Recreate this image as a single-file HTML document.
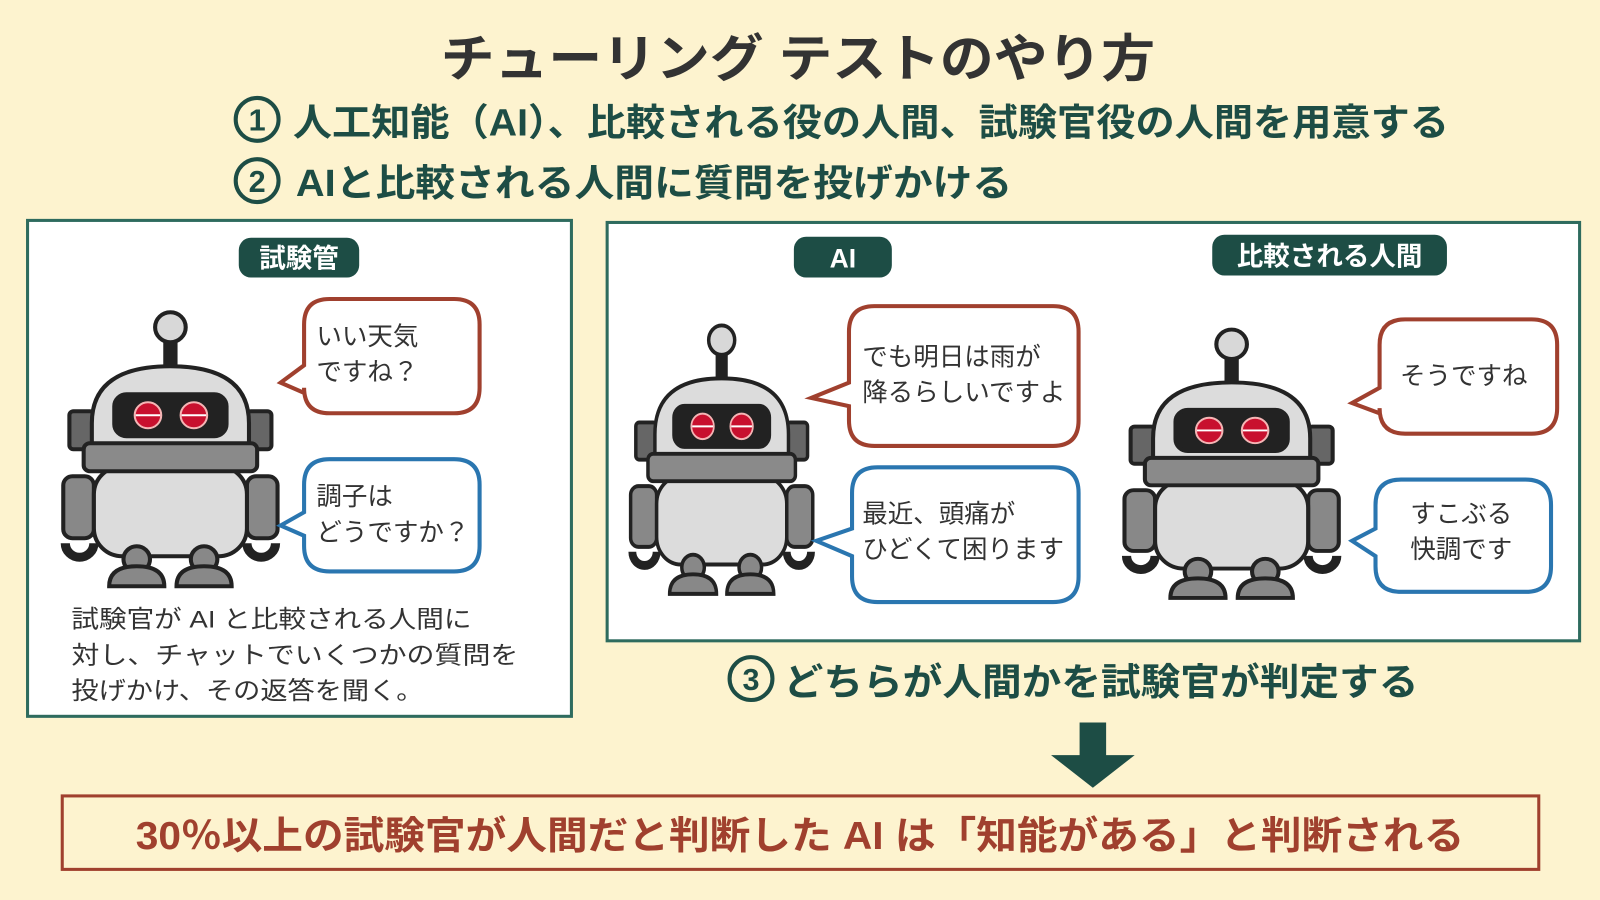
<!DOCTYPE html>
<html><head><meta charset="utf-8"><style>
html,body{margin:0;padding:0;background:#fdf3cf;}
svg{display:block;}
text{font-family:"Liberation Sans","Noto Sans CJK JP",sans-serif;}
</style></head><body>
<svg width="1600" height="900" viewBox="0 0 1568 882" preserveAspectRatio="none" xmlns="http://www.w3.org/2000/svg">
<defs>
<g id="robot" stroke="#222" stroke-width="4">
  <rect x="100" y="25" width="10" height="35" fill="#222"/>
  <circle cx="105" cy="16" r="15" fill="#d8d8d8"/>
  <rect x="6" y="100" width="24" height="38" rx="4" fill="#666"/>
  <rect x="180" y="100" width="24" height="38" rx="4" fill="#666"/>
  <path d="M28,135 L28,112 Q28,55 105,55 Q182,55 182,112 L182,135 Z" fill="#dcdcdc"/>
  <rect x="50" y="83" width="110" height="42" rx="12" fill="#222"/>
  <circle cx="83" cy="104" r="13" fill="#c8102e" stroke="#f5b5b5" stroke-width="2"/>
  <circle cx="128" cy="104" r="13" fill="#c8102e" stroke="#f5b5b5" stroke-width="2"/>
  <line x1="71" y1="104" x2="95" y2="104" stroke="#fff" stroke-width="2"/>
  <line x1="116" y1="104" x2="140" y2="104" stroke="#fff" stroke-width="2"/>
  <rect x="0" y="165" width="30" height="62" rx="9" fill="#888"/>
  <rect x="180" y="165" width="30" height="62" rx="9" fill="#888"/>
  <rect x="30" y="155" width="150" height="90" rx="28" fill="#dcdcdc"/>
  <rect x="20" y="132" width="170" height="28" rx="6" fill="#8a8a8a"/>
  <path d="M2,232 a14,14 0 1 0 28,0" fill="none" stroke="#222" stroke-width="9"/>
  <path d="M180,232 a14,14 0 1 0 28,0" fill="none" stroke="#222" stroke-width="9"/>
  <circle cx="72" cy="248" r="13" fill="#888"/>
  <circle cx="138" cy="248" r="13" fill="#888"/>
  <path d="M45,275 Q45,255 72,255 Q99,255 99,275 Z" fill="#888"/>
  <path d="M111,275 Q111,255 138,255 Q165,255 165,275 Z" fill="#888"/>
</g>
</defs>
<rect width="1568" height="882" fill="#fdf3cf"/>
<text x="432" y="75" font-size="50" font-weight="bold" fill="#333" textLength="700" lengthAdjust="spacingAndGlyphs">チューリング テストのやり方</text>
<g fill="none" stroke="#1d4d45" stroke-width="4">
<circle cx="252" cy="117" r="21"/><circle cx="252" cy="177" r="21"/><circle cx="736" cy="665" r="21"/>
</g>
<g font-size="30" font-weight="bold" fill="#1d4d45" text-anchor="middle">
<text x="252" y="128">1</text><text x="252" y="188">2</text><text x="736" y="676">3</text>
</g>
<g font-size="37" font-weight="bold" fill="#1d4d45">
<text x="287" y="133" textLength="1133" lengthAdjust="spacingAndGlyphs">人工知能（AI）、比較される役の人間、試験官役の人間を用意する</text>
<text x="290" y="192" textLength="702" lengthAdjust="spacingAndGlyphs">AIと比較される人間に質問を投げかける</text>
<text x="768" y="681" textLength="622" lengthAdjust="spacingAndGlyphs">どちらが人間かを試験官が判定する</text>
</g>
<rect x="27" y="216" width="533" height="486" fill="#fff" stroke="#2e6b5e" stroke-width="3"/>
<rect x="595" y="218" width="953" height="410" fill="#fff" stroke="#2e6b5e" stroke-width="3"/>
<rect x="234" y="233" width="118" height="39" rx="12" fill="#1d4d45"/>
<rect x="778" y="232" width="96" height="40" rx="12" fill="#1d4d45"/>
<rect x="1188" y="230" width="230" height="40" rx="12" fill="#1d4d45"/>
<g font-size="26" font-weight="bold" fill="#fff" text-anchor="middle">
<text x="293" y="262">試験管</text><text x="826" y="262">AI</text><text x="1303" y="260">比較される人間</text>
</g>
<use href="#robot" transform="translate(62,305) scale(1,0.98)"/>
<use href="#robot" transform="translate(618,318) scale(0.85,0.96)"/>
<use href="#robot" transform="translate(1102,322) scale(1.0,0.96)"/>
<g fill="#fff" stroke-width="4">
<path d="M323,293 H445 Q470,293 470,318 V380 Q470,405 445,405 H323 Q298,405 298,380 V385 L275,375 L298,358 V318 Q298,293 323,293 Z" stroke="#a0402e"/>
<path d="M323,450 H445 Q470,450 470,475 V535 Q470,560 445,560 H323 Q298,560 298,535 V525 L275,515 L298,502 V475 Q298,450 323,450 Z" stroke="#2a76b0"/>
<path d="M857,300 H1032 Q1057,300 1057,325 V412 Q1057,437 1032,437 H857 Q832,437 832,412 V398 L795,390 L832,375 V325 Q832,300 857,300 Z" stroke="#a0402e"/>
<path d="M860,458 H1032 Q1057,458 1057,483 V565 Q1057,590 1032,590 H860 Q835,590 835,565 V545 L800,530 L835,518 V483 Q835,458 860,458 Z" stroke="#2a76b0"/>
<path d="M1377,313 H1501 Q1526,313 1526,338 V400 Q1526,425 1501,425 H1377 Q1352,425 1352,400 V405 L1325,395 L1352,380 V338 Q1352,313 1377,313 Z" stroke="#a0402e"/>
<path d="M1373,470 H1495 Q1520,470 1520,495 V555 Q1520,580 1495,580 H1373 Q1348,580 1348,555 V545 L1325,530 L1348,518 V495 Q1348,470 1373,470 Z" stroke="#2a76b0"/>
</g>
<g font-size="25" fill="#333">
<text x="310" y="338">いい天気</text><text x="310" y="373">ですね？</text>
<text x="310" y="495">調子は</text><text x="310" y="530">どうですか？</text>
<text x="845" y="358">でも明日は雨が</text><text x="845" y="393">降るらしいですよ</text>
<text x="845" y="512">最近、頭痛が</text><text x="845" y="547">ひどくて困ります</text>
<text x="1372" y="377">そうですね</text>
<text x="1382" y="512">すこぶる</text><text x="1382" y="547">快調です</text>
</g>
<g font-size="24" fill="#333">
<text x="70" y="615" textLength="392" lengthAdjust="spacingAndGlyphs">試験官が AI と比較される人間に</text>
<text x="70" y="650" textLength="438" lengthAdjust="spacingAndGlyphs">対し、チャットでいくつかの質問を</text>
<text x="70" y="685" textLength="345" lengthAdjust="spacingAndGlyphs">投げかけ、その返答を聞く。</text>
</g>
<path d="M1058,708 H1084 V740 H1112 L1071,772 L1030,740 H1058 Z" fill="#1d4d45"/>
<rect x="61" y="780" width="1447" height="72" fill="#fdf3cf" stroke="#a0402e" stroke-width="3"/>
<text x="133" y="832" font-size="38" font-weight="bold" fill="#a0402e" textLength="1302" lengthAdjust="spacingAndGlyphs">30％以上の試験官が人間だと判断した AI は「知能がある」と判断される</text>
</svg>
</body></html>
